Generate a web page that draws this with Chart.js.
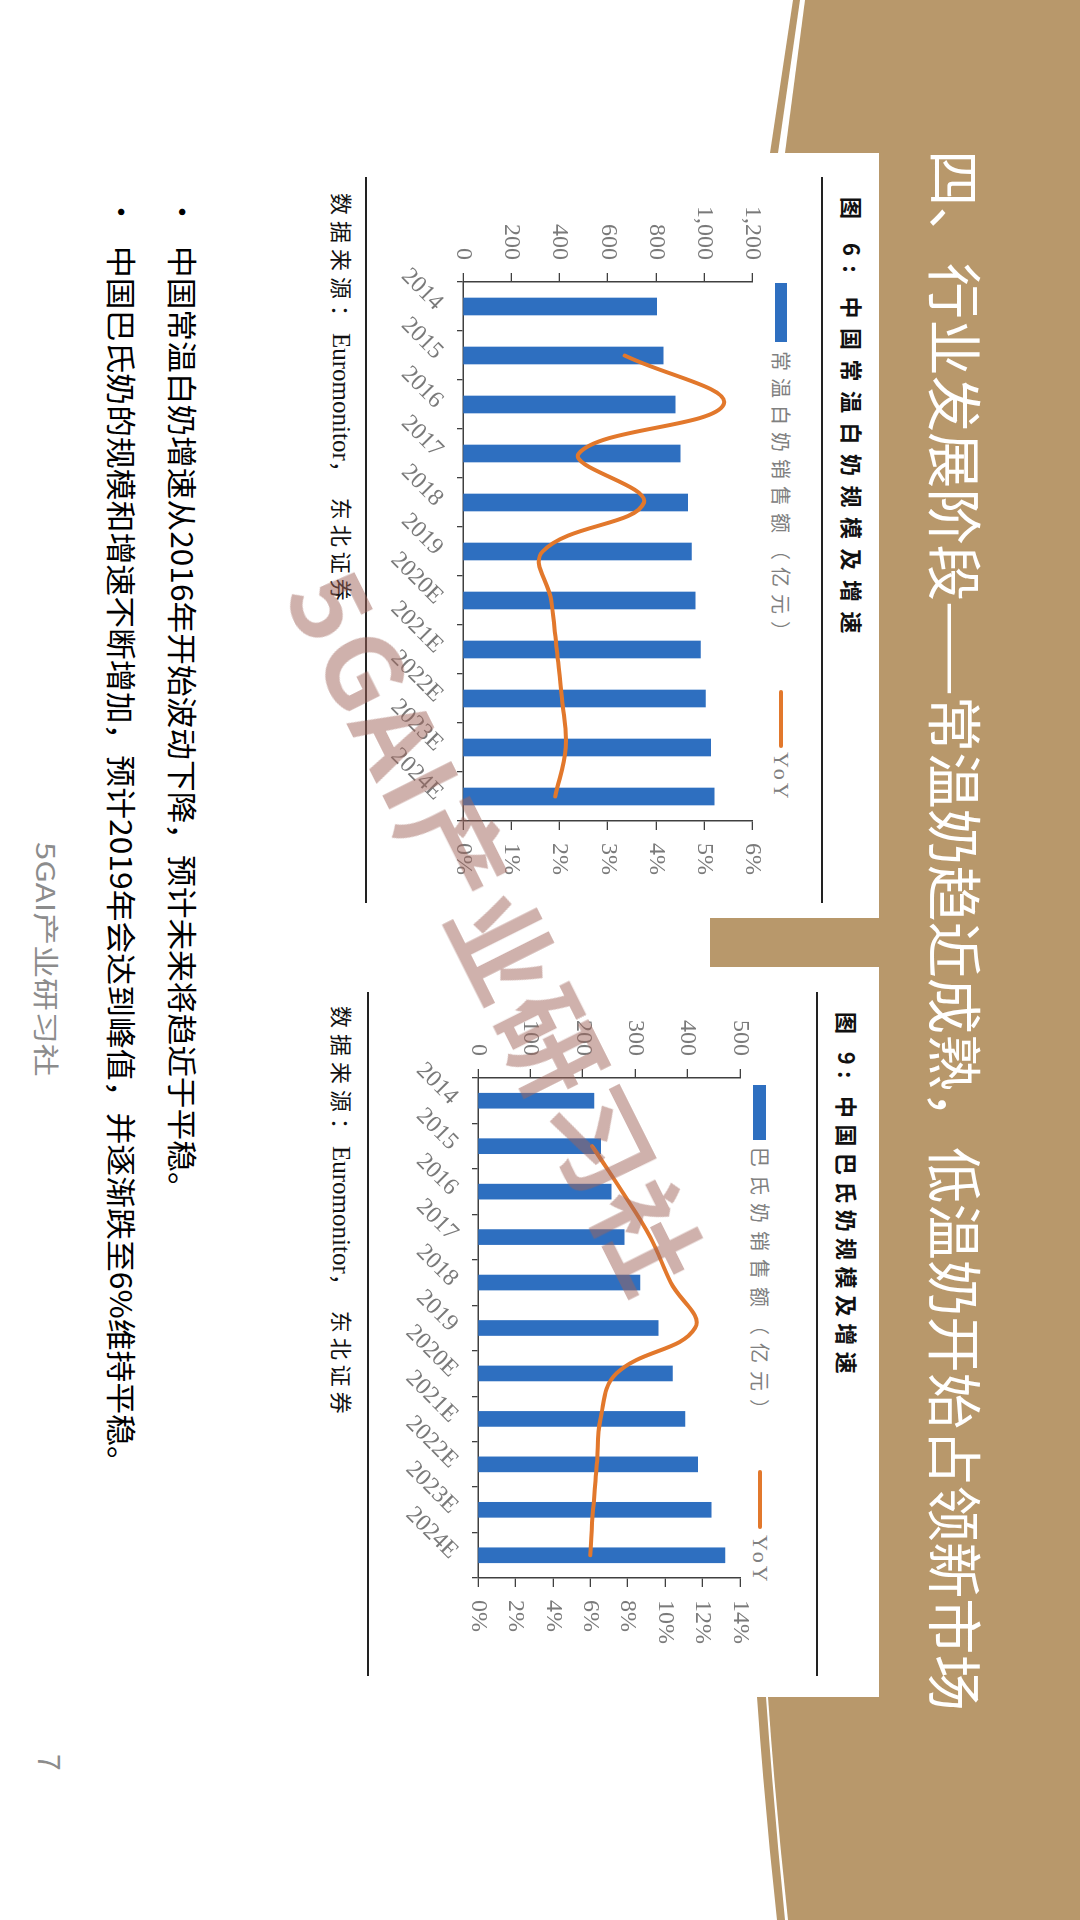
<!DOCTYPE html>
<html><head><meta charset="utf-8">
<script src="https://cdn.jsdelivr.net/npm/chart.js@4.4.1/dist/chart.umd.min.js"></script>
<style>
html,body{margin:0;padding:0;background:#fff;width:1080px;height:1920px;overflow:hidden;}
#bg{position:absolute;left:0;top:0;}
#slide{position:absolute;left:0;top:0;width:1920px;height:1080px;transform-origin:0 0;transform:translate(1080px,0) rotate(90deg);}
.t{position:absolute;white-space:pre;font-family:"Noto Sans CJK SC","Noto Sans",sans-serif;}
.fit{transform-origin:0 50%;}
.rule{position:absolute;background:#222;height:2px;}
.ser{font-family:'Liberation Serif','Times New Roman',serif;}
canvas{position:absolute;}
</style></head>
<body>
<svg id="bg" width="1080" height="1920" viewBox="0 0 1080 1920">
  <g fill="#B8986B">
    <rect x="879" y="0" width="201" height="1920"/>
    <polygon points="805,0 1080,0 1080,153 785,153"/>
    <polygon points="793,0 800,0 778,153 770,153"/>
    <rect x="710" y="918" width="170" height="49"/>
    <path d="M768,1697 Q776,1810 788,1920 L1080,1920 L1080,1697 Z"/>
    <path d="M757,1697 L766,1697 Q774,1810 785,1920 L777,1920 Q765,1810 757,1697 Z"/>
  </g>
</svg>
<div id="slide">
  <div class="t fit" data-w="1561" style="left:150px;top:90px;font-size:55px;line-height:64px;color:#fff;">四、行业发展阶段——常温奶趋近成熟，低温奶开始占领新市场</div>

  <!-- chart 1 frame -->
  <div class="t" style="left:197px;top:214px;font-size:22px;line-height:26px;font-weight:700;letter-spacing:9.5px;color:#111;">图 6: 中国常温白奶规模及增速</div>
  <div class="rule" style="left:177px;top:257px;width:726px;"></div>
  <div style="position:absolute;left:283px;top:293px;width:59px;height:12px;background:#2E6FC0;"></div>
  <div class="t" style="left:351px;top:286px;font-size:20px;line-height:26px;letter-spacing:7px;color:#808080;">常温白奶销售额（亿元）</div>
  <div style="position:absolute;left:690px;top:297px;width:58px;height:4px;background:#E2782C;border-radius:2px;"></div>
  <div class="t ser" style="left:752px;top:285px;font-size:22px;line-height:28px;letter-spacing:3px;color:#808080;">YoY</div>
  <canvas id="c1" width="720" height="420" style="left:170px;top:300px;"></canvas>
  <div class="rule" style="left:177px;top:713px;width:726px;"></div>
  <div class="t" style="left:193px;top:724px;font-size:22px;line-height:26px;color:#111;"><span style="letter-spacing:6px;">数据来源：</span><span class="ser" style="font-size:25px;">Euromonitor</span><span style="letter-spacing:5px;">， 东北证券</span></div>

  <!-- chart 2 frame -->
  <div class="t" style="left:1012px;top:219px;font-size:22px;line-height:26px;font-weight:700;letter-spacing:6.4px;color:#111;">图 9: 中国巴氏奶规模及增速</div>
  <div class="rule" style="left:992px;top:262px;width:684px;"></div>
  <div style="position:absolute;left:1085px;top:314px;width:55px;height:13px;background:#2E6FC0;"></div>
  <div class="t" style="left:1147px;top:307px;font-size:20px;line-height:26px;letter-spacing:8px;color:#808080;">巴氏奶销售额（亿元）</div>
  <div style="position:absolute;left:1470px;top:318px;width:59px;height:4px;background:#E2782C;border-radius:2px;"></div>
  <div class="t ser" style="left:1535px;top:306px;font-size:22px;line-height:28px;letter-spacing:3px;color:#808080;">YoY</div>
  <canvas id="c2" width="700" height="420" style="left:960px;top:300px;"></canvas>
  <div class="rule" style="left:992px;top:711px;width:684px;"></div>
  <div class="t" style="left:1006px;top:724px;font-size:22px;line-height:26px;color:#111;"><span style="letter-spacing:6px;">数据来源：</span><span class="ser" style="font-size:25px;">Euromonitor</span><span style="letter-spacing:5px;">， 东北证券</span></div>

  <!-- bullets -->
  <div class="t" style="left:197px;top:877px;font-size:30px;line-height:38px;color:#000;">•</div>
  <div class="t fit" data-w="958" style="left:246px;top:877px;font-size:30px;line-height:38px;color:#000;">中国常温白奶增速从2016年开始波动下降，预计未来将趋近于平稳。</div>
  <div class="t" style="left:197px;top:938px;font-size:30px;line-height:38px;color:#000;">•</div>
  <div class="t fit" data-w="1232" style="left:246px;top:938px;font-size:30px;line-height:38px;color:#000;">中国巴氏奶的规模和增速不断增加，预计2019年会达到峰值，并逐渐跌至6%维持平稳。</div>

  <div class="t fit" data-w="235" style="left:842px;top:1017px;font-size:26px;line-height:32px;color:#8c8c8c;">5GAI产业研习社</div>
  <div class="t" style="left:1754px;top:1013px;font-size:30px;line-height:32px;color:#8c8c8c;">7</div>

  <div class="t" style="left:930px;top:580px;transform:translate(-50%,-50%) rotate(-26.6deg);font-size:104px;line-height:116px;font-weight:700;letter-spacing:4px;color:rgba(160,100,90,0.5);">5GAI产业研习社</div>
</div>
<script>
// ---- data ----
const years = ['2014','2015','2016','2017','2018','2019','2020E','2021E','2022E','2023E','2024E'];
const uhtSales = [802, 829, 879, 900, 931, 947, 962, 984, 1004, 1026, 1041];
const uhtYoY = [null, 3.35, 5.4, 2.4, 3.75, 1.65, 1.83, 1.94, 2.05, 2.13, 1.91];
const pastSales = [221, 234, 254, 279, 309, 344, 371, 395, 419, 445, 471];
const pastYoY = [null, 6.1, 7.7, 9.2, 10.3, 11.6, 7.4, 6.55, 6.35, 6.15, 6.0];
const uhtAxis = {max: 1200, step: 200};
const uhtPctAxis = {max: 6, step: 1};
const pastAxis = {max: 500, step: 100};
const pastPctAxis = {max: 14, step: 2};

const BLUE = '#2E6FC0', ORANGE = '#E2782C', AX = '#404040', LBL = '#7a7a7a';
const tickFont = {family: "'Liberation Serif', 'Times New Roman', serif", size: 24};

function makeChart(id, sales, yoy, ax, pax, lay) {
  return new Chart(document.getElementById(id), {
    data: {
      labels: years,
      datasets: [
        {type: 'line', data: yoy, yAxisID: 'y2', borderColor: ORANGE, borderWidth: 4,
         pointRadius: 0, tension: 0.4, fill: false, order: 1, borderCapStyle: 'round', spanGaps: false},
        {type: 'bar', data: sales, yAxisID: 'y', backgroundColor: BLUE,
         barThickness: lay.bar, order: 2}
      ]
    },
    options: {
      responsive: false, animation: false, locale: 'en-US',
      layout: {padding: {top: lay.padTop, left: 0, right: 0, bottom: 0}},
      plugins: {legend: {display: false}, tooltip: {enabled: false}},
      scales: {
        x: {
          type: 'category', offset: true,
          grid: {drawOnChartArea: false, drawTicks: true, tickLength: 6, color: AX, lineWidth: 1.3, offset: true},
          border: {display: true, color: AX, width: 1.5},
          ticks: {autoSkip: false, minRotation: 45, maxRotation: 45, padding: 8, color: LBL, font: tickFont},
          afterFit: s => { s.height = lay.xH; }
        },
        y: {
          position: 'left', min: 0, max: ax.max,
          ticks: {stepSize: ax.step, padding: 13, color: LBL, font: tickFont},
          grid: {drawOnChartArea: false, drawTicks: true, tickLength: 9, color: AX, lineWidth: 1.3},
          border: {display: true, color: AX, width: 1.5},
          afterFit: s => { s.width = lay.yW; }
        },
        y2: {
          position: 'right', min: 0, max: pax.max,
          ticks: {stepSize: pax.step, padding: 13, color: LBL, font: tickFont, callback: v => v + '%'},
          grid: {drawOnChartArea: false, drawTicks: true, tickLength: 9, color: AX, lineWidth: 1.3},
          border: {display: true, color: AX, width: 1.5},
          afterFit: s => { s.width = lay.y2W; }
        }
      }
    }
  });
}

makeChart('c1', uhtSales, uhtYoY, uhtAxis, uhtPctAxis, {padTop: 26, xH: 103, yW: 112, y2W: 69, bar: 17});
makeChart('c2', pastSales, pastYoY, pastAxis, pastPctAxis, {padTop: 40, xH: 118, yW: 118, y2W: 82, bar: 15});

function fitAll(){
  document.querySelectorAll('.fit').forEach(el => {
    el.style.transform = 'none';
    const nat = el.offsetWidth;
    const w = +el.dataset.w;
    if (nat > 0) el.style.transform = 'scaleX(' + (w / nat) + ')';
  });
}
fitAll();
if (document.fonts && document.fonts.ready) document.fonts.ready.then(fitAll);
</script>
</body></html>
